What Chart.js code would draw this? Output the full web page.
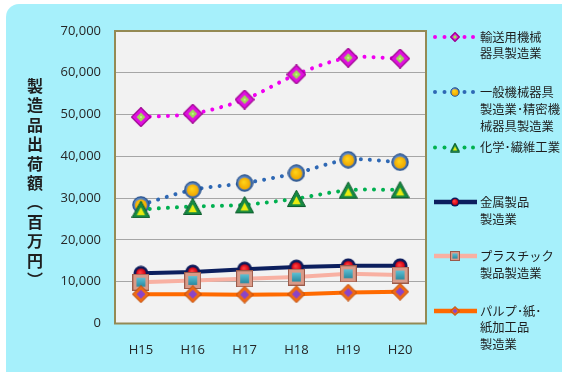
<!DOCTYPE html>
<html lang="ja">
<head>
<meta charset="utf-8">
<title>製造品出荷額の推移</title>
<script src="https://cdn.jsdelivr.net/npm/chart.js@4.4.1/dist/chart.umd.min.js"></script>
<style>
  html, body { margin: 0; padding: 0; background: #ffffff; }
  #wrap { position: relative; width: 562px; height: 372px; overflow: hidden; }
  #chart { position: absolute; left: 0; top: 0; }
  #ytitle {
    position: absolute; left: 27px; top: 78px;
    writing-mode: vertical-rl;
    font-family: "Noto Sans CJK JP", sans-serif;
    font-size: 16px; line-height: 16px; font-weight: 700;
    letter-spacing: 3.4px; color: #1e1e1e;
  }
</style>
</head>
<body>
<div id="wrap">
  <canvas id="chart" width="562" height="372"></canvas>
  <div id="ytitle">製造品出荷額（百万円）</div>
</div>
<script>
// Fiscal years (Heisei era)
const years = ['H15', 'H16', 'H17', 'H18', 'H19', 'H20'];

// Shipment values by industry (million yen)
const transportMachinery = [49400, 50200, 53600, 59600, 63600, 63400];
const generalMachinery   = [28400, 32000, 33600, 36000, 39200, 38600];
const chemicalTextile    = [27300, 28000, 28400, 29900, 31900, 32000];
const metalProducts      = [12000, 12300, 13000, 13500, 13800, 13800];
const plasticProducts    = [9900, 10300, 10700, 11100, 11900, 11600];
const pulpPaper          = [7000, 7000, 6900, 7000, 7400, 7600];

// Axis ticks
const yTickMin = 0;
const yTickMax = 70000;
const yTickStep = 10000;

// Legend labels (wrapped as shown)
const legendLabels = [
  ['輸送用機械', '器具製造業'],
  ['一般機械器具', '製造業･精密機', '械器具製造業'],
  ['化学･繊維工業'],
  ['金属製品', '製造業'],
  ['プラスチック', '製品製造業'],
  ['パルプ･紙･', '紙加工品', '製造業']
];

// ---- marker images ----
function makeMarker(kind, s) {
  const c = document.createElement('canvas');
  c.width = s; c.height = s;
  const g = c.getContext('2d');
  const m = s / 2;
  function diamond(r) {
    g.beginPath();
    g.moveTo(m, m - r); g.lineTo(m + r, m); g.lineTo(m, m + r); g.lineTo(m - r, m);
    g.closePath();
  }
  if (kind === 'transport') {
    diamond(m - 0.5);
    g.fillStyle = '#e010e0'; g.fill();
    g.lineWidth = 1.2; g.strokeStyle = '#9c008e'; g.stroke();
    diamond(s * 0.22);
    g.fillStyle = '#9ede52'; g.fill();
    g.fillStyle = '#c4f088';
    g.fillRect(m - s * 0.05, m - s * 0.05, s * 0.1, s * 0.1);
  } else if (kind === 'general') {
    g.beginPath(); g.arc(m, m, m - 0.8, 0, Math.PI * 2);
    const gr = g.createRadialGradient(m - 2, m - 2, 1, m, m, m);
    gr.addColorStop(0, '#8fb4e8'); gr.addColorStop(1, '#2c5a9c');
    g.fillStyle = gr; g.fill();
    g.lineWidth = 1; g.strokeStyle = '#1f4a86'; g.stroke();
    g.beginPath(); g.arc(m, m + 0.5, s * 0.33, 0, Math.PI * 2);
    const gy = g.createRadialGradient(m - 1, m - 1, 0.5, m, m, s * 0.33);
    gy.addColorStop(0, '#ffd21a'); gy.addColorStop(1, '#f0a800');
    g.fillStyle = gy; g.fill();
  } else if (kind === 'chemical') {
    const top = s * 0.06, bot = s * 0.92;
    g.beginPath(); g.moveTo(m, top); g.lineTo(s - 0.5, bot); g.lineTo(0.5, bot); g.closePath();
    g.fillStyle = '#168a42'; g.fill();
    g.lineWidth = 1; g.strokeStyle = '#0a5a2a'; g.stroke();
    g.beginPath();
    g.moveTo(m, s * 0.38); g.lineTo(m + s * 0.22, s * 0.8); g.lineTo(m - s * 0.22, s * 0.8); g.closePath();
    g.fillStyle = '#e8ec10'; g.fill();
  } else if (kind === 'metal') {
    g.beginPath(); g.arc(m, m, m - 0.5, 0, Math.PI * 2);
    g.fillStyle = '#0c1a5a'; g.fill();
    g.beginPath(); g.arc(m, m, s * 0.3, 0, Math.PI * 2);
    const gr = g.createRadialGradient(m - 1, m - 1, 0.5, m, m, s * 0.3);
    gr.addColorStop(0, '#ff4040'); gr.addColorStop(1, '#d00010');
    g.fillStyle = gr; g.fill();
  } else if (kind === 'plastic') {
    g.fillStyle = '#d99a88';
    g.fillRect(0.5, 0.5, s - 1, s - 1);
    g.lineWidth = 1; g.strokeStyle = '#9a5a4a';
    g.strokeRect(0.5, 0.5, s - 1, s - 1);
    const w = s * 0.52;
    const gr = g.createLinearGradient(0, m - w / 2, 0, m + w / 2);
    gr.addColorStop(0, '#5cc0d4'); gr.addColorStop(1, '#2a8aa0');
    g.fillStyle = gr;
    g.fillRect(m - w / 2, m - w / 2, w, w);
  } else if (kind === 'pulp') {
    diamond(m - 0.5);
    g.fillStyle = '#f06a14'; g.fill();
    g.lineWidth = 1; g.strokeStyle = '#b84a08'; g.stroke();
    diamond(m * 0.5);
    g.fillStyle = '#8a44c8'; g.fill();
  }
  return c;
}

const series = [
  { label: legendLabels[0].join(''), data: transportMachinery, color: '#f000f0', dotted: true,  kind: 'transport', size: 20, order: 6 },
  { label: legendLabels[1].join(''), data: generalMachinery,   color: '#2e68b4', dotted: true,  kind: 'general',   size: 18, order: 5 },
  { label: legendLabels[2].join(''), data: chemicalTextile,    color: '#00b050', dotted: true,  kind: 'chemical',  size: 19, order: 4 },
  { label: legendLabels[3].join(''), data: metalProducts,      color: '#0c1f5e', dotted: false, kind: 'metal',     size: 16, order: 3 },
  { label: legendLabels[4].join(''), data: plasticProducts,    color: '#f8b0a2', dotted: false, kind: 'plastic',   size: 17, order: 2 },
  { label: legendLabels[5].join(''), data: pulpPaper,          color: '#ff6a00', dotted: false, kind: 'pulp',      size: 18, order: 1 }
];

const datasets = series.map(s => ({
  label: s.label,
  data: s.data,
  borderColor: s.color,
  backgroundColor: s.color,
  borderWidth: 4,
  borderDash: s.dotted ? [0.01, 9] : [],
  borderCapStyle: s.dotted ? 'round' : 'butt',
  tension: s.dotted ? 0.3 : 0,
  pointStyle: makeMarker(s.kind, s.size),
  pointRadius: s.size / 2,
  order: s.order
}));

// Plot layout
const PLOT = { left: 115, top: 31, right: 426, bottom: 323.5 };

const backgroundPlugin = {
  id: 'panelBackground',
  beforeDraw(chart) {
    const ctx = chart.ctx;
    const a = chart.chartArea;
    ctx.save();
    ctx.fillStyle = '#ffffff';
    ctx.fillRect(0, 0, chart.width, chart.height);
    ctx.fillStyle = '#a6f0fb';
    ctx.beginPath();
    ctx.roundRect(6, 4, 580, 390, 13);
    ctx.fill();
    ctx.fillStyle = '#f2f2f2';
    ctx.fillRect(a.left, a.top, a.right - a.left, a.bottom - a.top);
    ctx.restore();
  },
  beforeDatasetsDraw(chart) {
    const ctx = chart.ctx;
    const a = chart.chartArea;
    ctx.save();
    ctx.strokeStyle = '#948a54';
    ctx.lineWidth = 2;
    ctx.strokeRect(a.left, a.top, a.right - a.left, a.bottom - a.top);
    ctx.restore();
  }
};

// Legend rows: y position of each text line
const legendRows = [
  [37, 53.5],
  [92, 109, 126],
  [147.5],
  [202, 219],
  [256, 273],
  [311, 327.5, 344]
];

const legendPlugin = {
  id: 'sideLegend',
  afterDraw(chart) {
    const ctx = chart.ctx;
    ctx.save();
    series.forEach((s, i) => {
      const ys = legendRows[i];
      const y = ys[0];
      if (s.dotted) {
        ctx.fillStyle = s.color;
        [435, 444.5, 464.5, 473].forEach(x => {
          ctx.beginPath(); ctx.arc(x, y, 2, 0, Math.PI * 2); ctx.fill();
        });
      } else {
        ctx.strokeStyle = s.color;
        ctx.lineWidth = 4.5;
        ctx.beginPath(); ctx.moveTo(434, y); ctx.lineTo(477, y); ctx.stroke();
      }
      const mk = makeMarker(s.kind, 10);
      ctx.drawImage(mk, 450, y - 5);
      ctx.fillStyle = '#1e1e1e';
      ctx.font = '12.3px "Noto Sans CJK JP", sans-serif';
      ctx.textBaseline = 'middle';
      ctx.textAlign = 'left';
      legendLabels[i].forEach((t, k) => ctx.fillText(t, 480, ys[k]));
    });
    ctx.restore();
  }
};

new Chart(document.getElementById('chart'), {
  type: 'line',
  data: { labels: years, datasets },
  options: {
    responsive: false,
    animation: false,
    locale: 'en-US',
    layout: { padding: { left: 0, top: PLOT.top, right: 562 - PLOT.right, bottom: 0 } },
    plugins: { legend: { display: false }, tooltip: { enabled: false } },
    scales: {
      x: {
        type: 'category',
        offset: true,
        grid: { display: false, drawTicks: false },
        border: { display: false },
        ticks: {
          color: '#262626',
          padding: 19,
          font: { family: '"Open Sans", sans-serif', size: 13 },
          maxRotation: 0
        },
        afterFit(scale) { scale.height = 372 - PLOT.bottom; }
      },
      y: {
        min: yTickMin,
        max: yTickMax,
        grid: { color: '#a6a6a6', lineWidth: 1, drawTicks: false },
        border: { display: false },
        ticks: {
          stepSize: yTickStep,
          color: '#262626',
          padding: 14,
          font: { family: '"Open Sans", sans-serif', size: 13 }
        },
        afterFit(scale) { scale.width = PLOT.left; }
      }
    }
  },
  plugins: [backgroundPlugin, legendPlugin]
});
</script>
</body>
</html>
